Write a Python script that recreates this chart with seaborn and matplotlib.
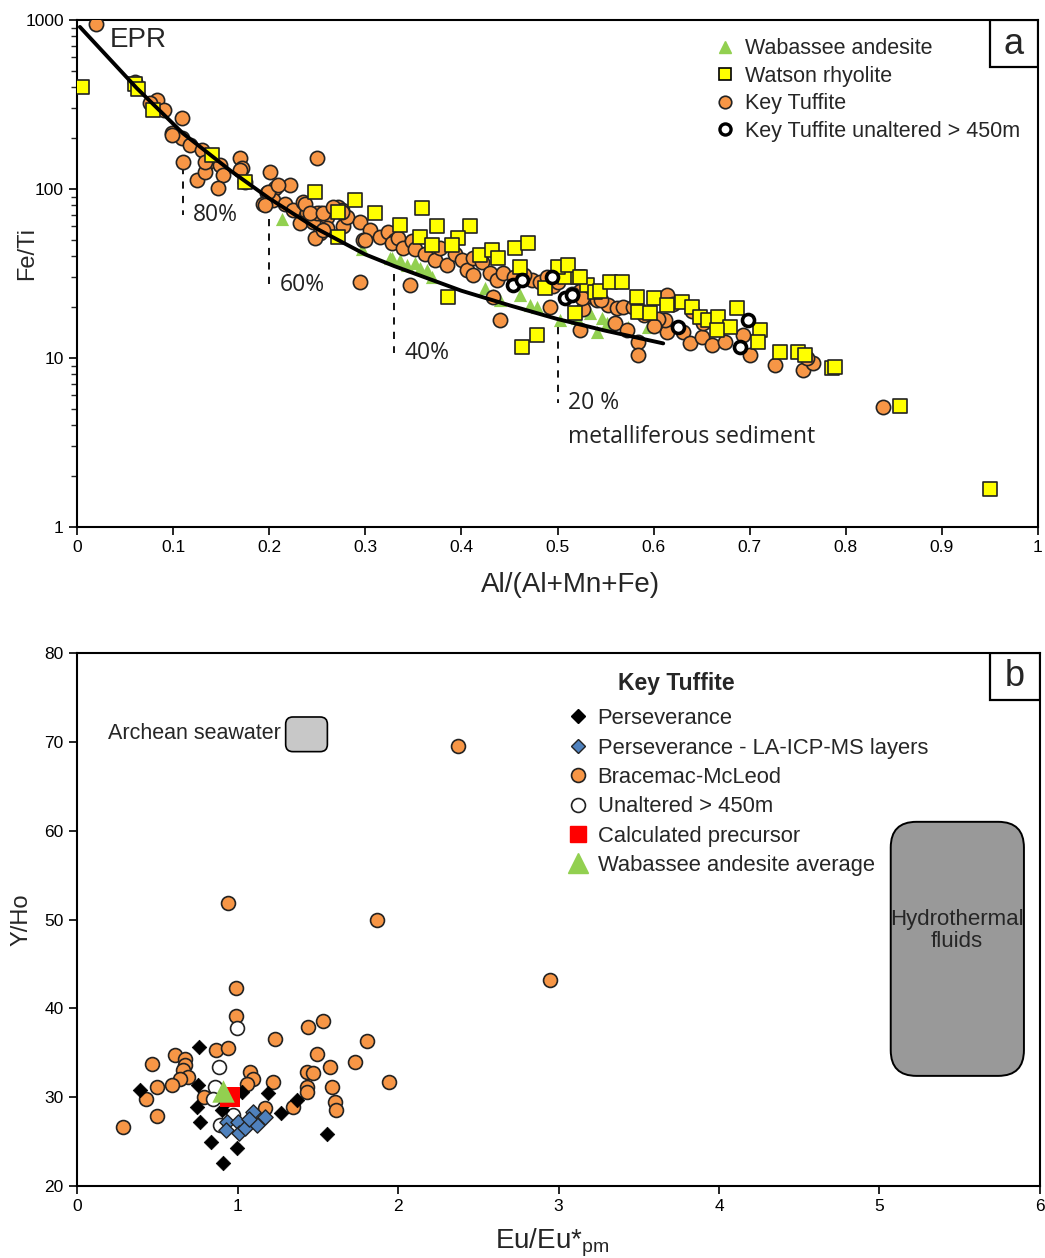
import numpy as np
import matplotlib
matplotlib.use("Agg")
from matplotlib import pyplot as plt
from matplotlib import ticker
from matplotlib.patches import FancyBboxPatch, Rectangle
from matplotlib.lines import Line2D
import seaborn as sns

# ---------------- panel a: Fe/Ti vs Al/(Al+Mn+Fe) ----------------
epr_x = [0.003, 0.062, 0.110, 0.160, 0.200, 0.250, 0.300, 0.330, 0.400, 0.450, 0.500, 0.550, 0.610]
epr_y = [910, 396, 214, 128, 88, 58, 41, 35, 25, 20.5, 17, 14.5, 12.2]

wabassee_x = [0.213, 0.297, 0.328, 0.326, 0.336, 0.343, 0.352, 0.357, 0.364, 0.369, 0.425,
              0.433, 0.440, 0.461, 0.471, 0.479, 0.503, 0.520, 0.534, 0.541, 0.532, 0.546,
              0.573, 0.594, 0.552]
wabassee_y = [66, 44, 39, 39, 38, 35.6, 36.5, 34, 33, 30, 26, 23.5, 22, 23.5, 20.7, 20, 16.8,
              17.2, 18.5, 14.3, 19.2, 17.2, 15.3, 15.3, 16.2]

watson_x = [0.005, 0.060, 0.063, 0.079, 0.140, 0.175, 0.248, 0.272, 0.289, 0.272, 0.310,
            0.336, 0.359, 0.375, 0.357, 0.369, 0.409, 0.396, 0.390, 0.386, 0.419, 0.432,
            0.438, 0.456, 0.469, 0.461, 0.487, 0.510, 0.508, 0.521, 0.531, 0.539, 0.518,
            0.463, 0.479, 0.500, 0.511, 0.523, 0.544, 0.555, 0.567, 0.583, 0.600, 0.614,
            0.584, 0.596, 0.630, 0.640, 0.648, 0.657, 0.667, 0.680, 0.666, 0.687, 0.711,
            0.709, 0.732, 0.750, 0.758, 0.786, 0.789, 0.856, 0.950]
watson_y = [400, 420, 390, 293, 159, 110, 96, 73, 86, 52, 72, 61, 77, 60, 52, 46.5, 60, 51,
            46.5, 23, 40.7, 43.5, 39, 45, 48, 34.5, 26, 34, 30, 30, 27, 24.5, 18.5, 11.6,
            13.7, 34.7, 35.5, 30, 25, 28, 28, 23, 22.7, 20.6, 18.7, 18.4, 21.5, 20, 17.4,
            16.8, 17.4, 15.3, 14.6, 19.8, 14.6, 12.4, 10.8, 10.9, 10.4, 8.7, 8.9, 5.2, 1.68]

tuffite_x = [0.020, 0.060, 0.083, 0.076, 0.090, 0.109, 0.099, 0.109, 0.118, 0.110, 0.130,
             0.135, 0.149, 0.125, 0.133, 0.152, 0.147, 0.170, 0.172, 0.175, 0.201, 0.198,
             0.206, 0.222, 0.194, 0.204, 0.216, 0.225, 0.235, 0.239, 0.232, 0.246, 0.253,
             0.250, 0.253, 0.260, 0.272, 0.277, 0.281, 0.248, 0.099, 0.133, 0.170, 0.199,
             0.196, 0.209, 0.250, 0.260, 0.276, 0.294, 0.305, 0.298, 0.315, 0.324, 0.331,
             0.294, 0.237, 0.242, 0.256, 0.266, 0.276, 0.256, 0.300, 0.328, 0.334, 0.339,
             0.349, 0.352, 0.362, 0.373, 0.378, 0.385, 0.393, 0.401, 0.406, 0.412, 0.421,
             0.412, 0.430, 0.437, 0.443, 0.473, 0.482, 0.495, 0.489, 0.523, 0.537, 0.527,
             0.440, 0.347, 0.523, 0.433, 0.492, 0.526, 0.541, 0.553, 0.562, 0.568, 0.560,
             0.572, 0.579, 0.584, 0.584, 0.614, 0.614, 0.612, 0.631, 0.638, 0.650, 0.661,
             0.674, 0.693, 0.700, 0.651, 0.669, 0.726, 0.755, 0.766, 0.760, 0.839, 0.455,
             0.465, 0.500, 0.515, 0.545, 0.590, 0.605, 0.620, 0.640, 0.600]
tuffite_y = [947, 430, 336, 323, 293, 263, 214, 200, 182, 144, 170, 142, 139, 113, 126, 121,
             101, 153, 133, 110, 126, 95, 101, 105, 82, 86, 82, 75, 84, 72, 63, 64, 72, 153,
             55, 68, 78, 60, 68, 51, 208, 144, 129, 96, 80, 105, 72, 59, 75, 64, 57, 50, 52,
             56, 50, 28, 82, 72, 72, 78, 73, 57, 50, 48, 51, 45, 49, 44, 41, 38, 45, 35.6,
             41, 38, 33, 39, 37, 31, 32, 29, 32, 29, 28, 26.5, 30, 25, 23, 19.4, 16.8, 27,
             14.6, 23, 20, 22.7, 22, 20.6, 19.8, 20, 16.2, 14.6, 20, 12.4, 10.4, 23.5, 14.2,
             16.8, 14.2, 12.2, 13.3, 11.9, 12.4, 13.7, 10.4, 16.2, 15.3, 9.1, 8.5, 9.3, 10,
             5.1, 30, 31, 28, 24, 22, 18, 17, 21, 19, 15.5]

unaltered_a_x = [0.454, 0.463, 0.494, 0.508, 0.515, 0.625, 0.698, 0.690]
unaltered_a_y = [27, 29, 30, 22.7, 23.5, 15.3, 16.8, 11.6]

mix_pct = ["80%", "60%", "40%", "20 %"]
mix_x = [0.11, 0.20, 0.33, 0.50]
mix_top = [135, 66, 31.6, 15.3]
mix_bottom = [70, 27, 10.7, 5.4]

# ---------------- panel b: Y/Ho vs Eu/Eu*pm ----------------
bracemac_x = [2.374, 0.941, 1.869, 0.990, 0.990, 1.234, 1.439, 1.533, 2.947, 1.807, 1.732,
              1.495, 1.576, 1.433, 1.470, 1.589, 1.433, 1.433, 1.607, 1.614, 1.944, 1.346,
              1.171, 1.221, 0.866, 0.941, 1.078, 1.097, 1.059, 0.791, 0.611, 0.673, 0.673,
              0.660, 0.692, 0.642, 0.592, 0.467, 0.498, 0.430, 0.498, 0.287]
bracemac_y = [69.5, 51.9, 50.0, 42.3, 39.1, 36.6, 37.9, 38.6, 43.2, 36.3, 34.0, 34.9, 33.4,
              32.8, 32.7, 31.1, 31.1, 30.6, 29.5, 28.6, 31.7, 28.9, 28.8, 31.7, 35.3, 35.5,
              32.8, 32.0, 31.5, 30.0, 34.7, 34.3, 33.6, 33.1, 32.3, 32.0, 31.4, 33.7, 31.1,
              29.8, 27.9, 26.6]

unaltered_b_x = [0.997, 0.885, 0.860, 0.890, 0.970, 0.850]
unaltered_b_y = [37.8, 33.4, 31.1, 26.9, 28.0, 29.8]

persev_x = [0.760, 0.393, 0.754, 0.748, 0.766, 0.835, 0.910, 0.997, 1.028, 0.903, 1.190,
            1.270, 1.371, 1.558, 0.930]
persev_y = [35.6, 30.8, 31.4, 28.9, 27.2, 25.0, 22.6, 24.3, 30.6, 28.6, 30.5, 28.2, 29.7,
            25.9, 29.5]

laicp_x = [0.935, 0.928, 1.003, 1.009, 1.047, 1.097, 1.121, 1.171, 1.070]
laicp_y = [27.2, 26.3, 27.2, 26.0, 26.5, 28.3, 26.9, 27.8, 27.5]

precursor_x = [0.953]
precursor_y = [30.0]
wab_avg_x = [0.910]
wab_avg_y = [30.7]

ORANGE = "#F79646"
YELLOW = "#FFFF00"
GREEN = "#92D050"
BLUE = "#4F81BD"

sns.set_theme(style="ticks")
plt.rcParams["font.family"] = ["Liberation Sans", "DejaVu Sans"]
plt.rcParams["xtick.direction"] = "out"
plt.rcParams["ytick.direction"] = "out"

fig = plt.figure(figsize=(10.45, 12.58), dpi=100)
ax1 = fig.add_axes([0.0737, 0.5811, 0.9196, 0.4030])
ax2 = fig.add_axes([0.0737, 0.0572, 0.9215, 0.4237])

# ---- panel a
sns.scatterplot(x=wabassee_x, y=wabassee_y, ax=ax1, marker="^", s=90, color=GREEN,
                edgecolor=GREEN, linewidth=0, zorder=2)
sns.scatterplot(x=tuffite_x, y=tuffite_y, ax=ax1, marker="o", s=105, color=ORANGE,
                edgecolor="#222222", linewidth=1.2, zorder=3)
sns.scatterplot(x=watson_x, y=watson_y, ax=ax1, marker="s", s=110, color=YELLOW,
                edgecolor="#222222", linewidth=1.2, zorder=4)
sns.scatterplot(x=unaltered_a_x, y=unaltered_a_y, ax=ax1, marker="o", s=75, color="white",
                edgecolor="black", linewidth=2.6, zorder=5)
sns.lineplot(x=epr_x, y=epr_y, ax=ax1, color="black", linewidth=2.8, sort=False,
             estimator=None, zorder=6)

for lab, xv, yt, yb in zip(mix_pct, mix_x, mix_top, mix_bottom):
    ax1.plot([xv, xv], [yt, yb], color="black", linestyle=(0, (4, 4)), linewidth=1.3, zorder=1)
    ax1.text(xv + 0.011, yb, lab, fontsize=16.5, family="Open Sans", va="center", ha="left",
             color="#222222")
ax1.text(mix_x[-1] + 0.011, 3.4, "metalliferous sediment", fontsize=16.5, family="Open Sans",
         va="center", ha="left", color="#222222")
ax1.text(0.034, 760, "EPR", fontsize=20, va="center", ha="left")

ax1.set_yscale("log")
ax1.set_xlim(0, 1)
ax1.set_ylim(1, 1000)
ax1.set_xticks(np.arange(0, 1.01, 0.1))
ax1.set_xticklabels(["0", "0.1", "0.2", "0.3", "0.4", "0.5", "0.6", "0.7", "0.8", "0.9", "1"])
ax1.yaxis.set_major_locator(ticker.FixedLocator([1, 10, 100, 1000]))
ax1.yaxis.set_major_formatter(ticker.FixedFormatter(["1", "10", "100", "1000"]))
ax1.yaxis.set_minor_locator(ticker.LogLocator(base=10, subs=np.arange(2, 10)))
ax1.yaxis.set_minor_formatter(ticker.NullFormatter())
ax1.tick_params(labelsize=12.5, length=6, width=1.2, colors="black")
ax1.tick_params(which="minor", length=4, width=1.0)
ax1.set_xlabel("Al/(Al+Mn+Fe)", fontsize=20)
ax1.set_ylabel("Fe/Ti", fontsize=17)
ax1.xaxis.set_label_coords(0.514, -0.089)
ax1.yaxis.set_label_coords(-0.040, 0.54)

leg_a = [
    Line2D([], [], marker="^", linestyle="", markersize=9, markerfacecolor=GREEN,
           markeredgecolor=GREEN, label="Wabassee andesite"),
    Line2D([], [], marker="s", linestyle="", markersize=9, markerfacecolor=YELLOW,
           markeredgecolor="black", markeredgewidth=1.2, label="Watson rhyolite"),
    Line2D([], [], marker="o", linestyle="", markersize=9, markerfacecolor=ORANGE,
           markeredgecolor="#222222", markeredgewidth=1.2, label="Key Tuffite"),
    Line2D([], [], marker="o", linestyle="", markersize=8, markerfacecolor="white",
           markeredgecolor="black", markeredgewidth=2.4, label="Key Tuffite unaltered > 450m"),
]
ax1.legend(handles=leg_a, loc="upper left", bbox_to_anchor=(0.656, 0.981), frameon=False,
           fontsize=15.5, handlelength=0.8, handletextpad=0.55, labelspacing=0.3,
           borderaxespad=0)
ax1.add_patch(Rectangle((0.950, 0.907), 0.05, 0.093, transform=ax1.transAxes,
                        facecolor="white", edgecolor="black", linewidth=1.6, zorder=7))
ax1.text(0.975, 0.952, "a", transform=ax1.transAxes, fontsize=26, ha="center",
         va="center", zorder=8)

# ---- panel b
ax2.add_patch(FancyBboxPatch((1.30, 68.9), 0.26, 3.9,
                             boxstyle="round,pad=0,rounding_size=0.045",
                             mutation_aspect=18.07, facecolor="#C8C8C8",
                             edgecolor="black", linewidth=1.2, zorder=1))
ax2.text(1.27, 70.9, "Archean seawater", fontsize=15.5, ha="right", va="center")
ax2.add_patch(FancyBboxPatch((5.07, 32.4), 0.83, 28.6,
                             boxstyle="round,pad=0,rounding_size=0.16",
                             mutation_aspect=18.07, facecolor="#999999",
                             edgecolor="black", linewidth=1.4, zorder=1))
ax2.text(5.48, 48.8, "Hydrothermal\nfluids", fontsize=16, ha="center", va="center",
         linespacing=1.05)

sns.scatterplot(x=bracemac_x, y=bracemac_y, ax=ax2, marker="o", s=100, color=ORANGE,
                edgecolor="#222222", linewidth=1.2, zorder=3)
sns.scatterplot(x=unaltered_b_x, y=unaltered_b_y, ax=ax2, marker="o", s=100, color="white",
                edgecolor="#222222", linewidth=1.2, zorder=3)
sns.scatterplot(x=persev_x, y=persev_y, ax=ax2, marker="D", s=55, color="black",
                edgecolor="black", linewidth=0.5, zorder=4)
sns.scatterplot(x=laicp_x, y=laicp_y, ax=ax2, marker="D", s=60, color=BLUE,
                edgecolor="#222222", linewidth=1.0, zorder=5)
sns.scatterplot(x=precursor_x, y=precursor_y, ax=ax2, marker="s", s=220, color="#FF0000",
                edgecolor="#FF0000", linewidth=0, zorder=6)
sns.scatterplot(x=wab_avg_x, y=wab_avg_y, ax=ax2, marker="^", s=260, color=GREEN,
                edgecolor=GREEN, linewidth=0, zorder=7)

ax2.set_xlim(0, 6)
ax2.set_ylim(20, 80)
ax2.set_xticks(range(0, 7))
ax2.set_yticks(range(20, 81, 10))
ax2.tick_params(labelsize=12.5, length=6, width=1.2, colors="black")
ax2.set_xlabel("Eu/Eu*$_{\\mathregular{pm}}$", fontsize=20)
ax2.set_ylabel("Y/Ho", fontsize=17)
ax2.xaxis.set_label_coords(0.494, -0.076)
ax2.yaxis.set_label_coords(-0.046, 0.5)

ax2.text(0.562, 0.942, "Key Tuffite", transform=ax2.transAxes, fontsize=16.5,
         fontweight="bold", ha="left", va="center")
leg_b = [
    Line2D([], [], marker="D", linestyle="", markersize=7, markerfacecolor="black",
           markeredgecolor="black", label="Perseverance"),
    Line2D([], [], marker="D", linestyle="", markersize=7, markerfacecolor=BLUE,
           markeredgecolor="#222222", label="Perseverance - LA-ICP-MS layers"),
    Line2D([], [], marker="o", linestyle="", markersize=10, markerfacecolor=ORANGE,
           markeredgecolor="#222222", markeredgewidth=1.2, label="Bracemac-McLeod"),
    Line2D([], [], marker="o", linestyle="", markersize=10, markerfacecolor="white",
           markeredgecolor="#222222", markeredgewidth=1.2, label="Unaltered > 450m"),
    Line2D([], [], marker="s", linestyle="", markersize=12, markerfacecolor="#FF0000",
           markeredgecolor="#FF0000", label="Calculated precursor"),
    Line2D([], [], marker="^", linestyle="", markersize=14, markerfacecolor=GREEN,
           markeredgecolor=GREEN, label="Wabassee andesite average"),
]
ax2.legend(handles=leg_b, loc="upper left", bbox_to_anchor=(0.4995, 0.913),
           frameon=False, fontsize=15.8, handlelength=1.0, handletextpad=0.4,
           labelspacing=0.38, borderaxespad=0)
ax2.add_patch(Rectangle((0.948, 0.912), 0.052, 0.088, transform=ax2.transAxes,
                        facecolor="white", edgecolor="black", linewidth=1.6, zorder=7))
ax2.text(0.974, 0.956, "b", transform=ax2.transAxes, fontsize=26, ha="center",
         va="center", zorder=8)

for ax in (ax1, ax2):
    for sp in ax.spines.values():
        sp.set_color("black")
        sp.set_linewidth(1.5)

fig.savefig("out.png", dpi=100)
